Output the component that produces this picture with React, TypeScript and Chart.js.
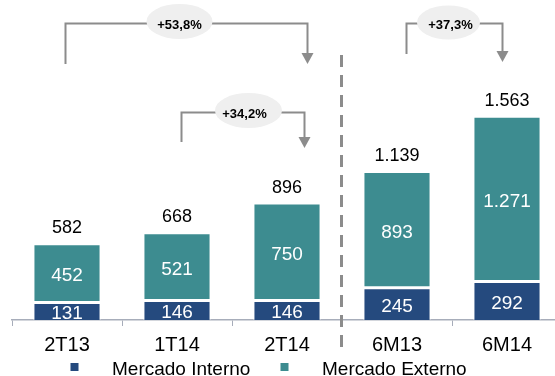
import React, { useEffect, useRef } from 'react';
import { Chart, registerables } from 'chart.js';

Chart.register(...registerables);

const CATEGORIES = ['2T13', '1T14', '2T14', '6M13', '6M14'];
const MERCADO_INTERNO = [131, 146, 146, 245, 292];
const MERCADO_EXTERNO = [452, 521, 750, 893, 1271];
const TOTALS = [582, 668, 896, 1139, 1563];
const SERIES_NAMES = ['Mercado Interno', 'Mercado Externo'];
const GROWTH_LABELS = ['+53,8%', '+34,2%', '+37,3%'];
const GROWTH_FROM = [0, 1, 3];
const GROWTH_TO = [2, 2, 4];

const COLOR_INTERNO = '#254A7E';
const COLOR_EXTERNO = '#3D8C90';
const AXIS_COLOR = '#A7ADBA';
const LINE_GRAY = '#8C8C8C';
const FONT = '"Liberation Sans", Arial, sans-serif';
const Y_MAX = 2308;

// bracket layout (levels in data units, offsets in px)
const BRACKET_LAYOUT = [
  { level: 2285, leftEnd: 1969, tipEnd: 1969, dxL: -2, dxR: 20, ex: 114, ew: 66, eh: 35, edy: -2, tdx: 0 },
  { level: 1600, leftEnd: 1369, tipEnd: 1323, dxL: 4, dxR: 17, ex: 67, ew: 67, eh: 35, edy: -2, tdx: -4 },
  { level: 2285, leftEnd: 2046, tipEnd: 1985, dxL: 9, dxR: -5, ex: 42, ew: 63, eh: 34, edy: -1, tdx: 2 },
];

function fmt(n: number): string {
  const s = String(Math.round(n));
  return s.replace(/\B(?=(\d{3})+(?!\d))/g, '.');
}

const overlayPlugin = {
  id: 'overlay',
  afterDatasetsDraw(chart: any) {
    const ctx = chart.ctx as CanvasRenderingContext2D;
    const ys = chart.scales.y;
    ctx.save();
    // inner labels
    ctx.fillStyle = '#FFFFFF';
    ctx.font = `19px ${FONT}`;
    ctx.textAlign = 'center';
    ctx.textBaseline = 'middle';
    [0, 1].forEach((di) => {
      const meta = chart.getDatasetMeta(di);
      const values = di === 0 ? MERCADO_INTERNO : MERCADO_EXTERNO;
      meta.data.forEach((bar: any, i: number) => {
        const cy = (bar.y + bar.base) / 2 + 2.5;
        ctx.fillText(fmt(values[i]), bar.x, cy);
      });
    });
    // totals
    ctx.fillStyle = '#000000';
    ctx.font = `18px ${FONT}`;
    ctx.textBaseline = 'alphabetic';
    const meta0 = chart.getDatasetMeta(0);
    TOTALS.forEach((t, i) => {
      const x = meta0.data[i].x;
      const y = ys.getPixelForValue(t) - 11;
      ctx.fillText(fmt(t), x, y);
    });
    ctx.restore();
  },
  afterDraw(chart: any) {
    const ctx = chart.ctx as CanvasRenderingContext2D;
    const xs = chart.scales.x;
    const ys = chart.scales.y;
    ctx.save();
    // dashed separator
    const sepX = Math.round((xs.getPixelForValue(2) + xs.getPixelForValue(3)) / 2) - 0.5;
    ctx.strokeStyle = LINE_GRAY;
    ctx.lineWidth = 3;
    ctx.setLineDash([12, 8]);
    ctx.beginPath();
    ctx.moveTo(sepX, 55);
    ctx.lineTo(sepX, 347);
    ctx.stroke();
    ctx.setLineDash([]);

    // growth brackets
    GROWTH_LABELS.forEach((label, k) => {
      const L = BRACKET_LAYOUT[k];
      const xl = Math.round(xs.getPixelForValue(GROWTH_FROM[k]) + L.dxL) + 0.5;
      const xr = Math.round(xs.getPixelForValue(GROWTH_TO[k]) + L.dxR) + 0.5;
      const yl = Math.round(ys.getPixelForValue(L.level)) + 0.5;
      const yLeft = ys.getPixelForValue(L.leftEnd);
      const yTip = ys.getPixelForValue(L.tipEnd);
      ctx.strokeStyle = LINE_GRAY;
      ctx.lineWidth = 2;
      ctx.beginPath();
      ctx.moveTo(xl, yLeft);
      ctx.lineTo(xl, yl);
      ctx.lineTo(xr, yl);
      ctx.lineTo(xr, yTip - 10);
      ctx.stroke();
      ctx.fillStyle = LINE_GRAY;
      ctx.beginPath();
      ctx.moveTo(xr - 6, yTip - 11);
      ctx.lineTo(xr + 6, yTip - 11);
      ctx.lineTo(xr, yTip);
      ctx.closePath();
      ctx.fill();
      // ellipse label
      const ex = xl + L.ex;
      const ey = yl + L.edy;
      ctx.fillStyle = '#EFEFEF';
      ctx.beginPath();
      ctx.ellipse(ex, ey, L.ew / 2, L.eh / 2, 0, 0, Math.PI * 2);
      ctx.fill();
      ctx.fillStyle = '#000000';
      ctx.font = `bold 13px ${FONT}`;
      ctx.textAlign = 'center';
      ctx.textBaseline = 'middle';
      ctx.fillText(label, ex + L.tdx, yl + 1.5);
    });

    // legend
    const colors = [COLOR_INTERNO, COLOR_EXTERNO];
    const markerX = [74.5, 284.5];
    const textX = [112, 322];
    ctx.font = `19px ${FONT}`;
    ctx.textAlign = 'left';
    ctx.textBaseline = 'alphabetic';
    SERIES_NAMES.forEach((name, i) => {
      ctx.fillStyle = colors[i];
      ctx.fillRect(markerX[i] - 4, 363, 8, 8);
      ctx.fillStyle = '#000000';
      ctx.fillText(name, textX[i], 375);
    });
    ctx.restore();
  },
};

export default function App() {
  const ref = useRef<HTMLCanvasElement | null>(null);
  useEffect(() => {
    if (!ref.current) return;
    const chart = new Chart(ref.current, {
      type: 'bar',
      data: {
        labels: CATEGORIES,
        datasets: [
          {
            label: SERIES_NAMES[0],
            data: MERCADO_INTERNO,
            backgroundColor: COLOR_INTERNO,
            borderColor: '#FFFFFF',
            borderWidth: 1,
            borderSkipped: 'start',
            barPercentage: 0.61,
            categoryPercentage: 1,
          },
          {
            label: SERIES_NAMES[1],
            data: MERCADO_EXTERNO,
            backgroundColor: COLOR_EXTERNO,
            borderColor: '#FFFFFF',
            borderWidth: { top: 1, left: 1, right: 1, bottom: 2 },
            borderSkipped: false,
            barPercentage: 0.61,
            categoryPercentage: 1,
          },
        ],
      },
      options: {
        responsive: false,
        maintainAspectRatio: false,
        animation: false,
        devicePixelRatio: 1,
        layout: { padding: { left: 12, right: 4, top: 20, bottom: 0 } },
        plugins: { legend: { display: false }, tooltip: { enabled: false } },
        scales: {
          x: {
            stacked: true,
            grid: {
              display: true,
              drawOnChartArea: false,
              drawTicks: true,
              tickLength: 6,
              color: AXIS_COLOR,
              offset: true,
            },
            border: { display: true, color: AXIS_COLOR, width: 1.5 },
            ticks: {
              color: '#000000',
              font: { family: FONT, size: 20 },
              padding: 7,
              maxRotation: 0,
              autoSkip: false,
            },
            afterFit: (s: any) => {
              s.height = 56;
            },
          },
          y: { stacked: true, display: false, min: 0, max: Y_MAX },
        },
      },
      plugins: [overlayPlugin],
    });
    return () => chart.destroy();
  }, []);
  return (
    <div style={{ position: 'fixed', left: 0, top: 0, width: 566, height: 376, background: '#FFFFFF' }}>
      <canvas ref={ref} width={566} height={376} style={{ width: 566, height: 376, display: 'block' }} />
    </div>
  );
}
